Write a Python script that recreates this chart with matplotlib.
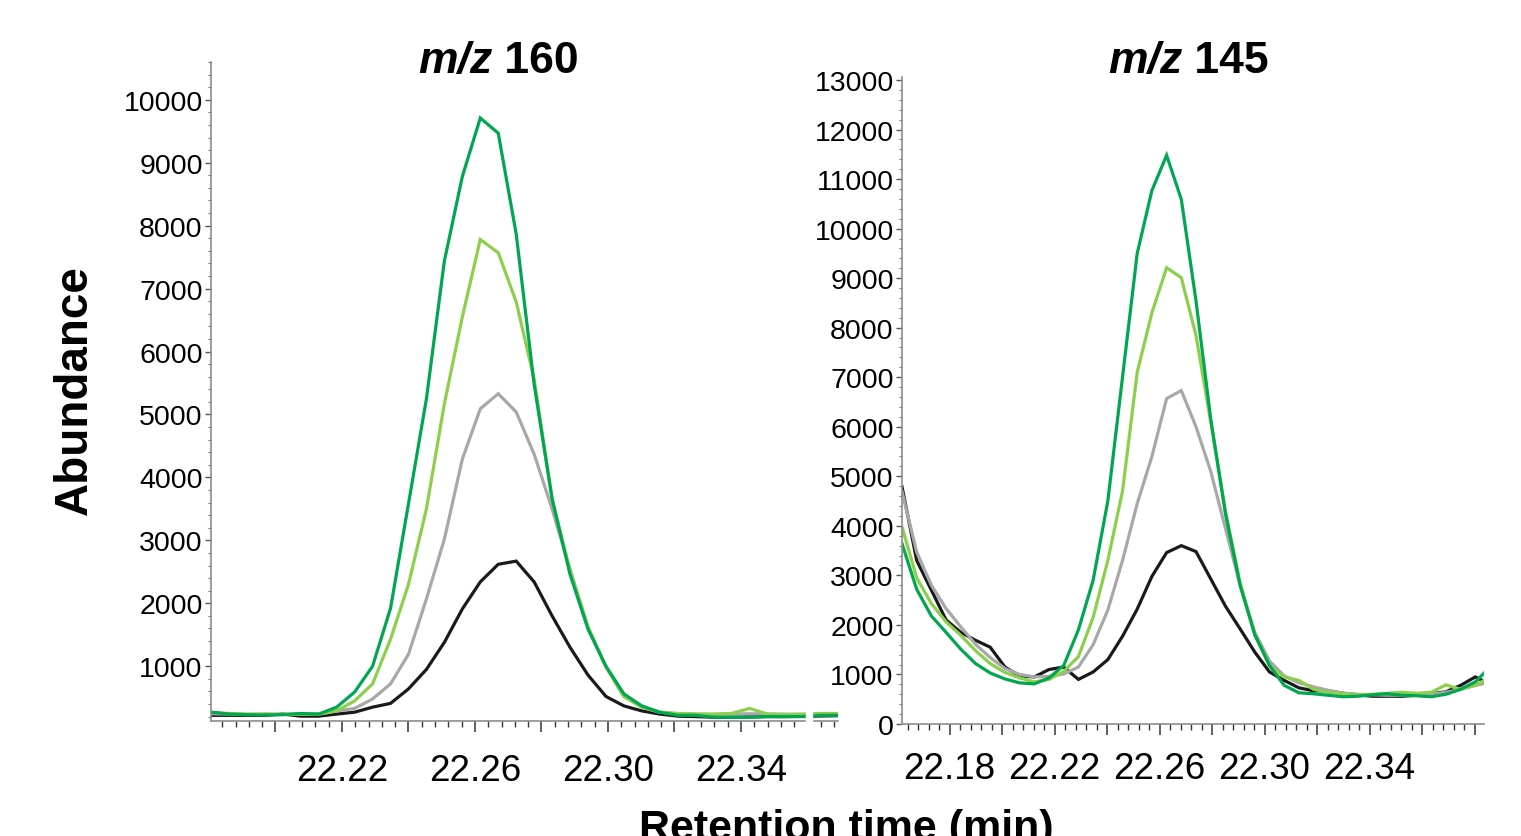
import numpy as np
import matplotlib
matplotlib.use('Agg')
import matplotlib.pyplot as plt
from matplotlib.ticker import MultipleLocator, FixedLocator

plt.rcParams['font.family'] = ['Liberation Sans', 'DejaVu Sans']

# m/z 160 trace, one scan about every 0.0054 min
t160 = 22.1806 + 0.0054 * np.arange(36)
black160 = [220, 220, 220, 220, 240, 207, 207, 240, 270, 350, 410, 640, 950, 1380, 1910, 2340, 2620, 2670,
            2340, 1800, 1300, 860, 520, 370, 290, 240, 207, 200, 190, 190, 195, 200, 200, 205, 210, 215]
gray160 = [245, 240, 235, 240, 235, 240, 240, 290, 330, 480, 720, 1190, 2070, 3020, 4290, 5090, 5330, 5040,
           4370, 3500, 2540, 1620, 990, 520, 350, 270, 245, 240, 235, 240, 245, 240, 240, 235, 240, 245]
lgreen160 = [270, 250, 240, 240, 235, 240, 240, 290, 450, 720, 1430, 2300, 3500, 5170, 6550, 7780, 7570, 6790,
             5560, 3660, 2510, 1620, 990, 520, 350, 270, 250, 240, 240, 250, 330, 240, 230, 240, 250, 250]
dgreen160 = [270, 240, 230, 225, 230, 250, 240, 350, 590, 1000, 1920, 3580, 5250, 7440, 8780, 9710, 9470, 7870,
             5480, 3660, 2460, 1590, 1000, 560, 370, 270, 220, 220, 190, 190, 190, 200, 200, 200, 220, 220]

# m/z 145 trace
t145 = 22.1619 + 0.0056 * np.arange(41)
black145 = [4790, 3300, 2700, 2100, 1850, 1690, 1550, 1150, 970, 950, 1100, 1150, 900, 1050, 1300, 1770, 2320,
            2980, 3460, 3600, 3480, 2930, 2380, 1920, 1450, 1050, 880, 730, 670, 670, 620, 590, 560, 560, 560,
            580, 610, 650, 780, 950, 800]
gray145 = [4690, 3470, 2800, 2330, 1960, 1610, 1340, 1120, 1000, 950, 960, 1010, 1150, 1600, 2300, 3300, 4450,
           5400, 6570, 6730, 6000, 5100, 3950, 2800, 1850, 1270, 970, 830, 750, 680, 620, 600, 590, 580, 580,
           580, 600, 640, 700, 780, 840]
lgreen145 = [3980, 2950, 2430, 2060, 1790, 1480, 1220, 1040, 930, 850, 900, 1060, 1360, 2150, 3300, 4700, 7100,
             8300, 9210, 9010, 7840, 6100, 4300, 2850, 1800, 1180, 950, 880, 700, 640, 610, 590, 600, 620, 640,
             620, 640, 790, 700, 780, 950]
dgreen145 = [3640, 2720, 2180, 1850, 1510, 1220, 1030, 910, 830, 810, 930, 1180, 1900, 2900, 4500, 7000, 9500,
             10770, 11480, 10590, 8540, 6160, 4250, 2800, 1800, 1180, 780, 630, 610, 580, 550, 560, 590, 610,
             580, 570, 550, 600, 700, 850, 1150]

xticks160 = [22.20, 22.22, 22.24, 22.26, 22.28, 22.30, 22.32, 22.34, 22.36]
xlabels160 = ['', '22.22', '', '22.26', '', '22.30', '', '22.34', '']
xticks145 = [22.18, 22.20, 22.22, 22.24, 22.26, 22.28, 22.30, 22.32, 22.34, 22.36, 22.38]
xlabels145 = ['22.18', '', '22.22', '', '22.26', '', '22.30', '', '22.34', '', '']

colors = ['#1a1a1a', '#a8a8a8', '#8ccf4d', '#00a650']

fig = plt.figure(figsize=(15.21, 8.37), dpi=100)
ax1 = fig.add_axes([211 / 1521, 1 - 722 / 837, 627 / 1521, 659 / 837])
ax2 = fig.add_axes([902 / 1521, 1 - 725 / 837, 582 / 1521, 647 / 837])


def drawPanel(ax, t, series, xticks, xlabels, xpad):
	for ys, c in zip(series, colors):
		ax.plot(t, ys, color=c, lw=2.3, solid_joinstyle='miter')
	for side in ['top', 'right']:
		ax.spines[side].set_visible(False)
	for side in ['left', 'bottom']:
		ax.spines[side].set_color('#8c8c8c')
		ax.spines[side].set_linewidth(1.2)
	ax.xaxis.set_major_locator(FixedLocator(xticks))
	ax.set_xticklabels(xlabels)
	ax.xaxis.set_minor_locator(MultipleLocator(0.004))
	ax.yaxis.set_major_locator(MultipleLocator(1000))
	ax.yaxis.set_minor_locator(MultipleLocator(200))
	ax.tick_params(axis='x', which='major', length=8, width=1.1, color='#333333', labelsize=26.5, pad=xpad)
	ax.tick_params(axis='x', which='minor', length=4, width=1.0, color='#333333')
	ax.tick_params(axis='y', which='major', length=4, width=1.0, color='#555555', labelsize=20.5, pad=2)
	ax.tick_params(axis='y', which='minor', length=2.5, width=0.8, color='#777777')


drawPanel(ax1, t160, [black160, gray160, lgreen160, dgreen160], xticks160, xlabels160, 15)
ax1.set_xlim(22.1806, 22.3692)
ax1.set_ylim(130, 10600)
# white break in the left trace near the right end
ax1.axvspan(22.3595, 22.3613, ymin=-0.03, ymax=1, color='white', zorder=5, clip_on=False)

drawPanel(ax2, t145, [black145, gray145, lgreen145, dgreen145], xticks145, xlabels145, 11.5)
ax2.set_xlim(22.1619, 22.3836)
ax2.set_ylim(0, 13060)


def mzTitle(x, mass):
	t = fig.text(x, 1 - 82 / 837, 'm/z', fontsize=32, fontweight='bold', style='italic', va='bottom')
	ax1.annotate(' ' + mass, xy=(1, 0), xycoords=t, fontsize=32, fontweight='bold', va='bottom',
		annotation_clip=False)


mzTitle(418 / 1521, '160')
mzTitle(1108 / 1521, '145')

fig.text(75 / 1521, 1 - 390 / 837, 'Abundance', fontsize=33, fontweight='bold', rotation=90,
	ha='center', va='center')
fig.text(846 / 1521, -0.003, 'Retention time (min)', fontsize=31, fontweight='bold',
	ha='center', va='baseline')

fig.savefig('out.png', dpi=100)
